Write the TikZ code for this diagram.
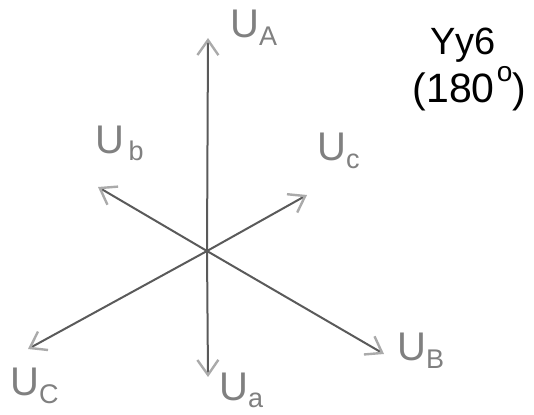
\documentclass[tikz,border=0pt]{standalone}
\usepackage{fontspec}
\setmainfont{Liberation Sans}
\usetikzlibrary{arrows.meta}
\definecolor{shaft}{HTML}{5A5A5A}
\definecolor{tipgray}{HTML}{AAAAAA}
\definecolor{labgray}{HTML}{808080}

\newcommand{\phasor}[2][0pt]{U\hspace{#1}\raisebox{-8pt}{\fontsize{27}{27}\selectfont #2}}

\begin{document}
\begin{tikzpicture}[x=1pt,y=-1pt,
vec/.style={draw=shaft, line width=2pt,
  -{Straight Barb[length=15pt,width=21pt,line width=2.4pt,color=tipgray]}},
lab/.style={text=labgray, font=\fontsize{40}{42}\selectfont, inner sep=0pt, anchor=base west}]

\useasboundingbox (0,0) rectangle (534,414);

\coordinate (O) at (207,251);
\coordinate (tA) at (208,38);
\coordinate (tB) at (384,354);
\coordinate (tC) at (28,349);
\coordinate (ta) at (208,377);
\coordinate (tb) at (98,187);
\coordinate (tc) at (307,195);

\draw[vec] (O) -- (tA);
\draw[vec] (O) -- (tB);
\draw[vec] (O) -- (tC);
\draw[vec] (O) -- (ta);
\draw[vec] (O) -- (tb);
\draw[vec] (O) -- (tc);

\node[lab] (lA) at (230,38) {\phasor{A}};
\node[lab] (lB) at (397,360) {\phasor{B}};
\node[lab] (lC) at (10,395) {\phasor{C}};
\node[lab] (la) at (219,400) {\phasor[0pt]{\raisebox{1pt}{a}}};
\node[lab] (lb) at (95,153) {\phasor[4.5pt]{b}};
\node[lab] (lc) at (317,160) {\phasor{c}};

\node[inner sep=0pt, anchor=base west, font=\fontsize{38}{40}\selectfont] (title) at (430,55) {Yy6};
\node[inner sep=0pt, anchor=base west, font=\fontsize{41}{44}\selectfont] (angle) at (412.5,103)
  {(180\hspace{2pt}\raisebox{21pt}{\fontsize{28}{28}\selectfont o})};

\end{tikzpicture}
\end{document}
